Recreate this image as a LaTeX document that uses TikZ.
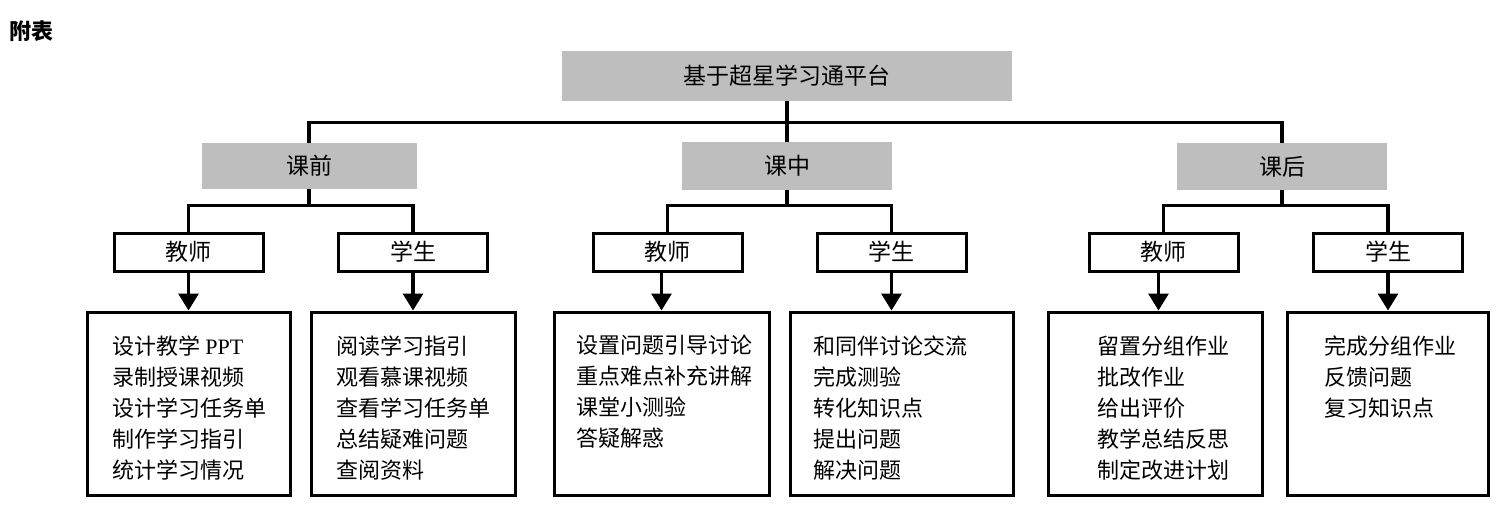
\documentclass[tikz,border=0pt]{standalone}
\usepackage{fontspec}
\setmainfont{Noto Sans CJK SC}
\newfontfamily\lat{Liberation Serif}
\usetikzlibrary{arrows.meta,calc}
\definecolor{boxgray}{RGB}{190,190,190}
\begin{document}
\begin{tikzpicture}[x=0.5pt,y=-0.5pt,
  graybox/.style={fill=boxgray,draw=none,inner sep=0pt,font=\fontsize{11.5}{14}\selectfont},
  rolebox/.style={draw,line width=1.5pt,fill=white,inner sep=0pt,minimum width=74.5pt,minimum height=19pt,font=\fontsize{11.5}{14}\selectfont},
  contentbox/.style={draw,line width=1.5pt,inner sep=0pt,minimum height=91.5pt},
  items/.style={align=left,anchor=west,inner sep=0pt,font=\fontsize{11}{15.5}\selectfont},
  conn/.style={line width=1.6pt},
  arr/.style={conn,-{Triangle[length=8.5pt,width=10pt]}}]
\useasboundingbox (0,0) rectangle (1500,505);
\node[font=\bfseries\fontsize{11}{13}\selectfont,inner sep=0pt] (fb) at (32,31) {附表};
\node[graybox,minimum width=225pt,minimum height=25pt] (root) at (787,76) {基于超星学习通平台};
\node[graybox,minimum width=107.5pt,minimum height=23pt] (kq) at (309,166) {课前};
\node[graybox,minimum width=105pt,minimum height=24pt] (kz) at (787,166) {课中};
\node[graybox,minimum width=105pt,minimum height=23.5pt] (kh) at (1282,166.5) {课后};
% role boxes
\node[rolebox] (tq) at (188.5,252) {教师};
\node[rolebox] (sq) at (413,252) {学生};
\node[rolebox] (tz) at (667.5,252) {教师};
\node[rolebox] (sz) at (891.5,252) {学生};
\node[rolebox] (th) at (1163.5,252) {教师};
\node[rolebox] (sh) at (1388,252) {学生};
% content boxes
\node[contentbox,minimum width=101.5pt] (c1) at (188.5,403.5) {};
\node[contentbox,minimum width=102pt] (c2) at (413,403.5) {};
\node[contentbox,minimum width=107.5pt] (c3) at (661.5,403.5) {};
\node[contentbox,minimum width=111.5pt] (c4) at (901.5,403.5) {};
\node[contentbox,minimum width=107pt] (c5) at (1155,403.5) {};
\node[contentbox,minimum width=100.5pt] (c6) at (1387.5,403.5) {};
\node[items] (i1) at (112,408.5) {设计教学 {\lat PPT}\\录制授课视频\\设计学习任务单\\制作学习指引\\统计学习情况};
\node[items] (i2) at (336,408.5) {阅读学习指引\\观看慕课视频\\查看学习任务单\\总结疑难问题\\查阅资料};
\node[items] (i3) at (576,392) {设置问题引导讨论\\重点难点补充讲解\\课堂小测验\\答疑解惑};
\node[items] (i4) at (813,408) {和同伴讨论交流\\完成测验\\转化知识点\\提出问题\\解决问题};
\node[items] (i5) at (1097,408) {留置分组作业\\批改作业\\给出评价\\教学总结反思\\制定改进计划};
\node[items] (i6) at (1324,377) {完成分组作业\\反馈问题\\复习知识点};
% tree connectors
\draw[conn] (root.south) -- (kz.north);
\draw[conn] (kq.north) -- ++(0,-20) -| (kh.north);
\draw[conn] (kq.south) -- ++(0,18) coordinate (jq);
\draw[conn] (tq.north) -- ++(0,-26) -| (sq.north);
\draw[conn] (kz.south) -- ++(0,17);
\draw[conn] (tz.north) -- ++(0,-26) -| (sz.north);
\draw[conn] (kh.south) -- ++(0,17);
\draw[conn] (th.north) -- ++(0,-26) -| (sh.north);
% arrows
\draw[arr] (tq.south) -- (c1.north);
\draw[arr] (sq.south) -- (c2.north);
\draw[arr] (c3.north |- tz.south) -- (c3.north);
\draw[arr] (sz.south) -- (sz.south |- c4.north);
\draw[arr] ($(th.south)+(-5,0)$) -- ($(th.south |- c5.north)+(-5,0)$);
\draw[arr] (sh.south) -- (sh.south |- c6.north);
\end{tikzpicture}
\end{document}
